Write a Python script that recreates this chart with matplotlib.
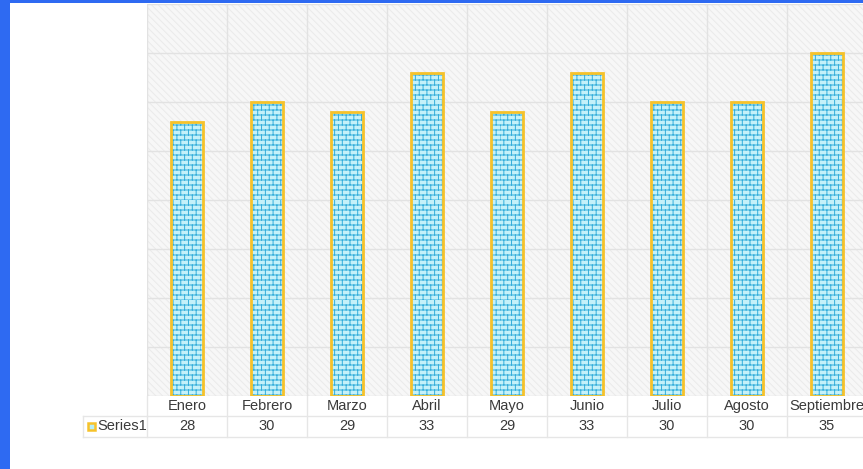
import warnings
import numpy as np
import matplotlib
matplotlib.use("Agg")
import matplotlib.pyplot as plt
from matplotlib import hatch as mhatch
from matplotlib.path import Path
from matplotlib.patches import Rectangle
import matplotlib.transforms as mtrans

warnings.filterwarnings("ignore")

categories = ["Enero", "Febrero", "Marzo", "Abril", "Mayo", "Junio", "Julio", "Agosto", "Septiembre"]
series_name = "Series1"
values = [28, 30, 29, 33, 29, 33, 30, 30, 35]


class BrickHatch(mhatch.HatchPatternBase):
    rows = 20
    cols = 13

    def __init__(self, hatch, density):
        self.on = hatch.count('b') > 0
        if self.on:
            self.num_vertices = self.rows * 2 + self.rows * self.cols * 2
        else:
            self.num_vertices = 0

    def set_vertices_and_codes(self, vertices, codes):
        k = 0
        for r in range(self.rows):
            y = r / self.rows
            vertices[k] = (0.0, y); codes[k] = Path.MOVETO; k += 1
            vertices[k] = (1.0, y); codes[k] = Path.LINETO; k += 1
        for r in range(self.rows):
            y0 = r / self.rows
            y1 = (r + 1) / self.rows
            off = 0.5 * (r % 2)
            for c in range(self.cols):
                x = ((c + off) % self.cols) / self.cols
                vertices[k] = (x, y0); codes[k] = Path.MOVETO; k += 1
                vertices[k] = (x, y1); codes[k] = Path.LINETO; k += 1


mhatch._hatch_types.append(BrickHatch)

plt.rcParams['font.family'] = ['Liberation Sans', 'DejaVu Sans']
plt.rcParams['hatch.linewidth'] = 0.7

W, H = 863, 469
fig = plt.figure(figsize=(W / 100, H / 100), dpi=100)
fig.patch.set_facecolor("white")

# blue frame
blue = "#2E6AF2"
fig.patches.append(Rectangle((0, 0), 9.5 / W, 1, transform=fig.transFigure, facecolor=blue, edgecolor="none", zorder=0))
fig.patches.append(Rectangle((0, 1 - 3.5 / H), 1, 3.5 / H, transform=fig.transFigure, facecolor=blue, edgecolor="none", zorder=0))

left_px, right_px, top_px, bottom_px = 147, 867, 4, 396
ax = fig.add_axes([left_px / W, 1 - bottom_px / H, (right_px - left_px) / W, (bottom_px - top_px) / H])
n = len(categories)
ax.set_xlim(-0.5, n - 0.5)
ax.set_ylim(0, 40)
ax.set_facecolor("#F7F7F7")
bg = Rectangle((0, 0), 1, 1, transform=ax.transAxes, facecolor="none",
               edgecolor="#EAEAEA", hatch="\\\\\\\\\\", lw=0, zorder=0)
ax.add_patch(bg)
for s in ax.spines.values():
    s.set_visible(False)
ax.set_yticks(np.arange(0, 41, 5))
ax.set_xticks(np.arange(-0.5, n, 1.0))
ax.grid(True, color="#E2E2E2", lw=1.0, zorder=1)
ax.tick_params(left=False, bottom=False, labelleft=False, labelbottom=False)
ax.set_axisbelow(True)

x = np.arange(n)
ax.bar(x, values, width=0.41, color="#C4F1F9", edgecolor="#33ADDA", hatch="b", lw=0, zorder=3)
ax.bar(x, values, width=0.41, color="none", edgecolor="#F6C22A", lw=2.0, zorder=4)

# data table
tr = mtrans.blended_transform_factory(ax.transData, fig.transFigure)
row1 = 1 - 406 / H
row2 = 1 - 426 / H
txtc = "#3A3A3A"
fs = 10.5
for i, (c, v) in enumerate(zip(categories, values)):
    ax.text(i, row1, c, transform=tr, ha="center", va="center", fontsize=fs, color=txtc, clip_on=False)
    ax.text(i, row2, str(v), transform=tr, ha="center", va="center", fontsize=fs, color=txtc, clip_on=False)

linec = "#E6E6E6"
fy = lambda p: 1 - p / H
fx = lambda p: p / W
fig.add_artist(plt.Line2D([fx(147), fx(870)], [fy(416), fy(416)], color=linec, lw=1))
fig.add_artist(plt.Line2D([fx(83), fx(870)], [fy(436.5), fy(436.5)], color=linec, lw=1))
fig.add_artist(plt.Line2D([fx(83), fx(147)], [fy(416), fy(416)], color=linec, lw=1))
fig.add_artist(plt.Line2D([fx(83), fx(83)], [fy(416), fy(436.5)], color=linec, lw=1))
for b in np.arange(-0.5, n, 1.0):
    ax.plot([b, b], [fy(396), fy(436.5)], transform=tr, color=linec, lw=1, clip_on=False)

# legend key + series name
fig.patches.append(Rectangle((fx(88), fy(430)), 7 / W, 7 / H, transform=fig.transFigure,
                             facecolor="#B6EEF8", edgecolor="#F6C22A", lw=1.8))
fig.text(fx(97.5), row2, series_name, ha="left", va="center", fontsize=fs, color=txtc)

fig.savefig("out.png", dpi=100, facecolor="white")
